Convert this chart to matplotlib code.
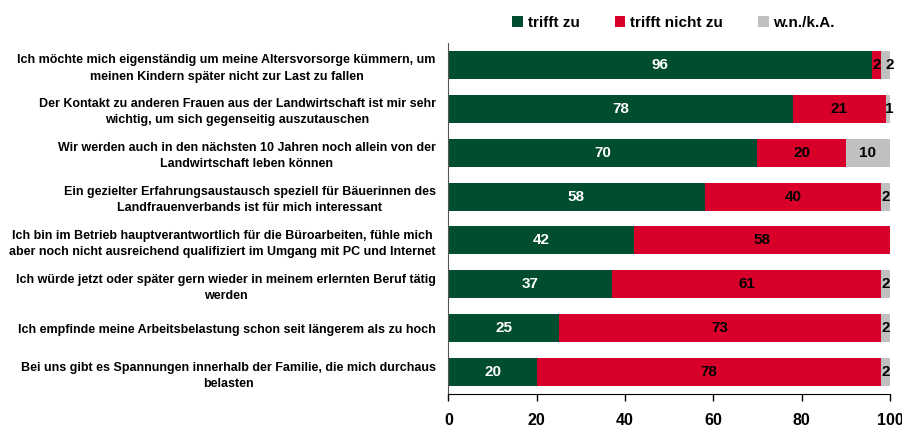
import matplotlib
matplotlib.use("Agg")
import matplotlib.pyplot as plt
import numpy as np

categories = [
    "Ich möchte mich eigenständig um meine Altersvorsorge kümmern, um\nmeinen Kindern später nicht zur Last zu fallen",
    "Der Kontakt zu anderen Frauen aus der Landwirtschaft ist mir sehr\nwichtig, um sich gegenseitig auszutauschen",
    "Wir werden auch in den nächsten 10 Jahren noch allein von der\nLandwirtschaft leben können",
    "Ein gezielter Erfahrungsaustausch speziell für Bäuerinnen des\nLandfrauenverbands ist für mich interessant",
    "Ich bin im Betrieb hauptverantwortlich für die Büroarbeiten, fühle mich\naber noch nicht ausreichend qualifiziert im Umgang mit PC und Internet",
    "Ich würde jetzt oder später gern wieder in meinem erlernten Beruf tätig\nwerden",
    "Ich empfinde meine Arbeitsbelastung schon seit längerem als zu hoch",
    "Bei uns gibt es Spannungen innerhalb der Familie, die mich durchaus\nbelasten",
]
trifft_zu = [96, 78, 70, 58, 42, 37, 25, 20]
trifft_nicht_zu = [2, 21, 20, 40, 58, 61, 73, 78]
wn_ka = [2, 1, 10, 2, 0, 2, 2, 2]
series_names = ["trifft zu", "trifft nicht zu", "w.n./k.A."]
x_ticks = [0, 20, 40, 60, 80, 100]

colors = ["#004D2F", "#D8002B", "#C0C0C0"]
text_colors = ["white", "black", "black"]

plt.rcParams['font.family'] = ['Liberation Sans', 'DejaVu Sans']
plt.rcParams['font.weight'] = 'bold'

fig = plt.figure(figsize=(9.03, 4.28), dpi=100)
ax = fig.add_axes([0.4965, 0.0794, 0.4891, 0.8201])

y = np.arange(len(categories))
left = np.zeros(len(categories))
prev = np.full(len(categories), 100.0)
handles = []
for vals, name, col, tcol in zip([trifft_zu, trifft_nicht_zu, wn_ka], series_names, colors, text_colors):
    vals = np.array(vals, dtype=float)
    bars = ax.barh(y, vals, left=left, height=0.64, color=col, label=name, edgecolor='none')
    handles.append(bars)
    for yi, l, v, pv in zip(y, left, vals, prev):
        if v <= 0:
            continue
        xc = l + v / 2
        if v <= 2 and pv <= 2:
            xc += 1.0
        elif v < 2:
            xc += 0.4
        ax.text(xc, yi, f"{int(v)}", ha='center', va='center',
                color=tcol, fontsize=11, fontweight='bold')
    left = left + vals
    prev = vals

ax.set_xlim(0, 100)
ax.set_ylim(len(categories) - 0.5, -0.5)
ax.set_yticks(y)
ax.set_yticklabels(categories, fontsize=9, fontweight='bold', multialignment='center', linespacing=1.45)
ax.tick_params(axis='y', length=0, pad=9)
ax.set_xticks(x_ticks)
ax.set_xticklabels([str(t) for t in x_ticks], fontsize=11.5, fontweight='bold')
ax.tick_params(axis='x', length=5, width=1, pad=9, color='black')
for s in ['top', 'right']:
    ax.spines[s].set_visible(False)
ax.spines['left'].set_color('#555555')
ax.spines['bottom'].set_color('black')

fig.legend(handles=handles, labels=series_names, loc='center', bbox_to_anchor=(0.746, 0.947),
           ncol=3, frameon=False, handlelength=0.7, handleheight=0.7, handletextpad=0.3,
           columnspacing=2.3, prop={'size': 11, 'weight': 'bold'})

fig.savefig("out.png", dpi=100)
